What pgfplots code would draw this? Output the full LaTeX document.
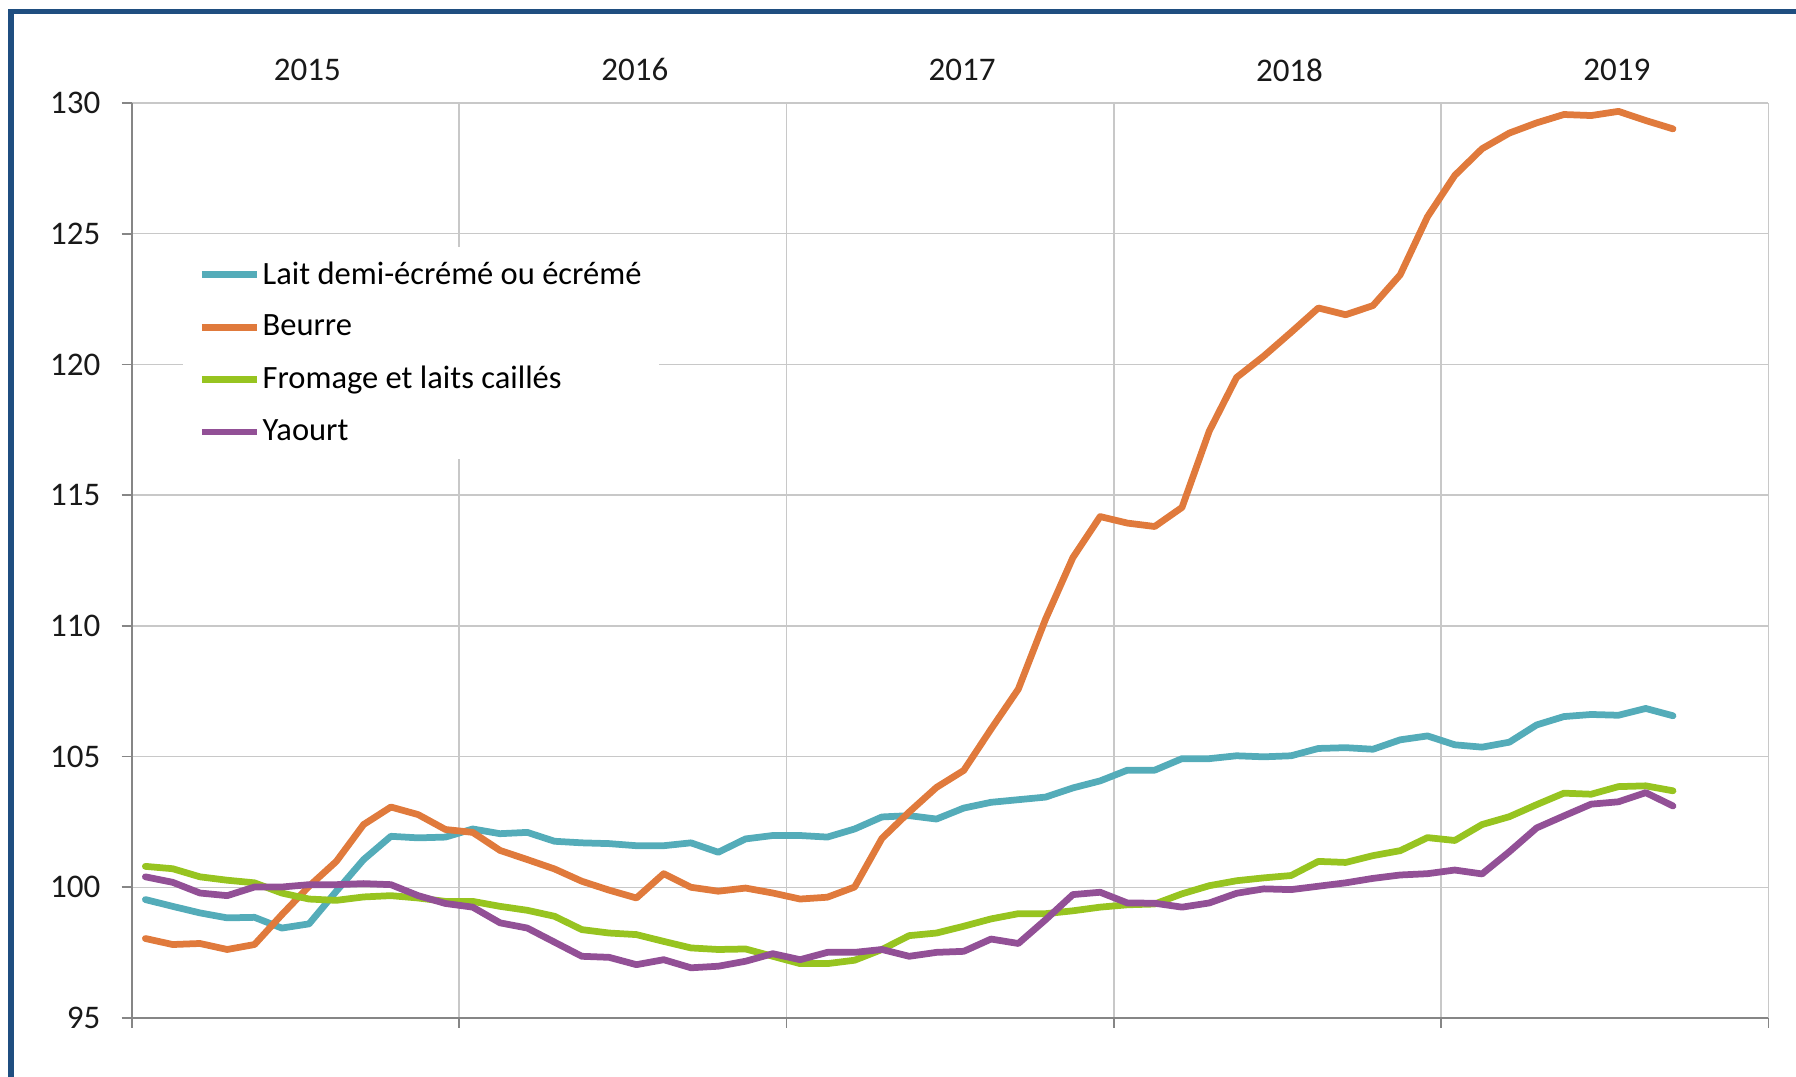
\documentclass[border=0pt]{standalone}
\usepackage{fontspec}
\setmainfont{Carlito}
\usepackage{pgfplots}
\usepackage{pgfplotstable}
\pgfplotsset{compat=1.18}

\definecolor{lait}{RGB}{84,172,185}
\definecolor{beurre}{RGB}{224,122,60}
\definecolor{fromage}{RGB}{151,196,32}
\definecolor{yaourt}{RGB}{146,80,150}
\definecolor{cadre}{RGB}{31,78,128}
\definecolor{grille}{RGB}{200,200,200}
\definecolor{axe}{RGB}{134,134,134}

% indices mensuels, janv. 2015 -> sept. 2019 (x = mois + 0.5)
\pgfplotstableread{
x     lait    beurre  fromage yaourt
0.5   99.53   98.04   100.80  100.40
1.5   99.27   97.81   100.71  100.19
2.5   99.02   97.85   100.40  99.78
3.5   98.83   97.62   100.27  99.68
4.5   98.85   97.81   100.17  100.01
5.5   98.44   98.95   99.78   100.01
6.5   98.60   100.04  99.55   100.10
7.5   99.85   100.99  99.50   100.10
8.5   101.06  102.40  99.63   100.14
9.5   101.95  103.07  99.68   100.10
10.5  101.89  102.78  99.59   99.68
11.5  101.92  102.21  99.46   99.38
12.5  102.23  102.10  99.46   99.24
13.5  102.05  101.41  99.27   98.64
14.5  102.10  101.06  99.12   98.44
15.5  101.76  100.70  98.89   97.90
16.5  101.70  100.23  98.38   97.36
17.5  101.67  99.89   98.25   97.32
18.5  101.59  99.59   98.19   97.04
19.5  101.59  100.52  97.93   97.23
20.5  101.70  100.00  97.68   96.92
21.5  101.34  99.85   97.62   96.98
22.5  101.85  99.97   97.64   97.17
23.5  101.98  99.78   97.36   97.46
24.5  101.98  99.55   97.08   97.23
25.5  101.92  99.62   97.08   97.51
26.5  102.23  100.01  97.21   97.51
27.5  102.69  101.87  97.62   97.62
28.5  102.74  102.88  98.15   97.36
29.5  102.61  103.82  98.25   97.51
30.5  103.03  104.47  98.51   97.55
31.5  103.25  106.05  98.79   98.02
32.5  103.35  107.58  98.99   97.85
33.5  103.45  110.26  98.99   98.76
34.5  103.80  112.61  99.10   99.72
35.5  104.07  114.18  99.24   99.81
36.5  104.48  113.93  99.33   99.40
37.5  104.48  113.80  99.36   99.39
38.5  104.92  114.53  99.75   99.24
39.5  104.92  117.45  100.06  99.40
40.5  105.03  119.50  100.25  99.77
41.5  104.99  120.32  100.36  99.94
42.5  105.03  121.23  100.45  99.91
43.5  105.31  122.16  100.99  100.04
44.5  105.34  121.90  100.95  100.17
45.5  105.28  122.25  101.21  100.34
46.5  105.64  123.43  101.40  100.47
47.5  105.79  125.65  101.90  100.52
48.5  105.45  127.23  101.79  100.66
49.5  105.36  128.25  102.40  100.51
50.5  105.55  128.85  102.70  101.36
51.5  106.21  129.24  103.16  102.27
52.5  106.53  129.56  103.60  102.73
53.5  106.61  129.52  103.56  103.18
54.5  106.58  129.68  103.85  103.27
55.5  106.84  129.33  103.88  103.62
56.5  106.56  129.01  103.69  103.11
}\donnees

\begin{document}
\begin{tikzpicture}
\useasboundingbox (-52.7pt,-23.6pt) rectangle (665.7pt,407.2pt);

\begin{axis}[
    at={(0,0)}, anchor=south west,
    scale only axis,
    width=654.7pt, height=366pt,
    xmin=0, xmax=60,
    ymin=95, ymax=130,
    xtick={0,12,24,36,48,60},
    xticklabels={},
    ytick={95,100,...,130},
    axis x line=bottom, axis y line=left,
    axis line style={-, draw=axe, line width=0.7pt},
    tick style={draw=axe, line width=0.7pt},
    tick align=outside,
    major tick length=4pt,
    grid=major,
    grid style={draw=grille, line width=0.6pt},
    /pgf/number format/assume math mode=true,
    ticklabel style={font=\fontsize{13.2}{15}\selectfont, text=black!90},
    yticklabel style={/pgf/number format/1000 sep={}, xshift=-5pt},
    legend style={
        at={(0.0313,0.8437)}, anchor=north west,
        draw=none, fill=white,
        font=\fontsize{13}{15}\selectfont,
        inner xsep=6pt, inner ysep=5pt,
        row sep=8.8pt,
        nodes={inner sep=1pt},
    },
    legend cell align=left,
    legend image code/.code={\draw[#1, line cap=butt] (0pt,0pt) -- (22pt,0pt);},
    every axis plot/.append style={line width=2.7pt, line join=round, line cap=round},
]
\addplot[lait, no markers] table[x=x, y=lait] {\donnees};
\addplot[beurre, no markers] table[x=x, y=beurre] {\donnees};
\addplot[fromage, no markers] table[x=x, y=fromage] {\donnees};
\addplot[yaourt, no markers] table[x=x, y=yaourt] {\donnees};
\legend{Lait demi-écrémé ou écrémé, Beurre, Fromage et laits caillés, Yaourt}
\end{axis}

% libellés des années en haut
\begin{axis}[
    at={(0,0)}, anchor=south west,
    scale only axis,
    width=654.7pt, height=366pt,
    xmin=0, xmax=60, ymin=0, ymax=1,
    axis x line=top, axis y line=none,
    axis line style={draw=none},
    xtick={6,18,30,42,54},
    xticklabels={2015,2016,2017,2018,2019},
    major tick length=0pt,
    xticklabel style={font=\fontsize{13.2}{15}\selectfont, text=black!90, anchor=center, xshift=4.8pt, yshift=13.2pt},
]
\end{axis}

\draw[cadre, line width=2.3pt] (-48.3pt,-40pt) -- (-48.3pt,402.6pt) -- (700pt,402.6pt);
\end{tikzpicture}
\end{document}
